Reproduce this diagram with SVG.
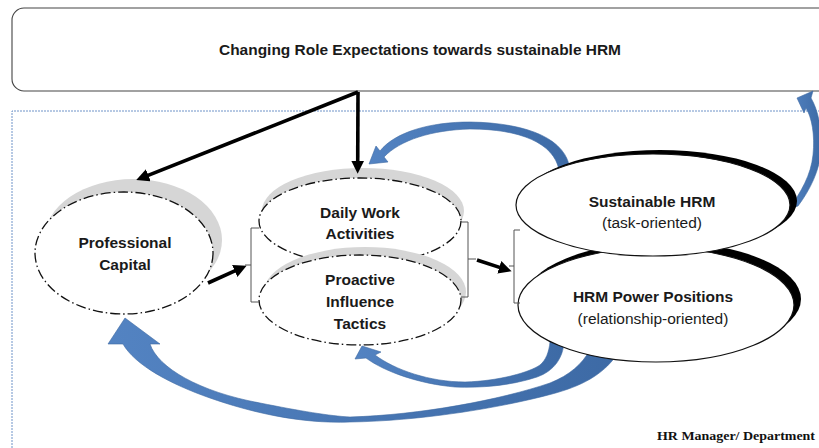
<svg xmlns="http://www.w3.org/2000/svg" width="819" height="448" viewBox="0 0 819 448">
  <defs>
    <style>
      .frame { fill: none; stroke: #6F93C8; stroke-width: 1; stroke-dasharray: 2 1; }
      .topbox { fill: #ffffff; stroke: #444; stroke-width: 1.1; }
      .dd { fill: #ffffff; stroke: #111; stroke-width: 1.3; stroke-dasharray: 10 3 1.5 3; }
      .dd-shadow { fill: #d6d6d6; stroke: none; }
      .solid { fill: #ffffff; stroke: #111; stroke-width: 1.2; }
      .solid-shadow { fill: #000; stroke: none; }
      .lbl { font-family: "Liberation Sans", Arial, sans-serif; font-size: 15.5px; font-weight: bold; fill: #1a1a1a; text-anchor: middle; }
      .sub { font-family: "Liberation Sans", Arial, sans-serif; font-size: 15.5px; fill: #1a1a1a; text-anchor: middle; }
      .title { font-family: "Liberation Sans", Arial, sans-serif; font-size: 15px; font-weight: bold; fill: #1a1a1a; }
      .corner { font-family: "Liberation Serif", "Times New Roman", serif; font-size: 13.5px; font-weight: bold; fill: #111; }
      .blk { fill: none; stroke: #000; stroke-width: 3.6; marker-end: url(#head); }
      .brk { fill: none; stroke: #555; stroke-width: 1; }
      .blue { fill: url(#blueGrad); stroke: #3E6AA3; stroke-width: 0.6; }
    </style>
    <marker id="head" viewBox="0 0 12 12" markerUnits="userSpaceOnUse" markerWidth="13" markerHeight="13" refX="4" refY="6" orient="auto">
      <path d="M0,0 L12,6 L0,12 Z" fill="#000"/>
    </marker>
    <linearGradient id="blueGrad" x1="0" y1="0" x2="1" y2="0">
      <stop offset="0" stop-color="#5383C2"/>
      <stop offset="1" stop-color="#3D6AA5"/>
    </linearGradient>
  </defs>

  <!-- outer frame of the department area -->
  <path class="frame" d="M12,448 L12,111 L819,111"/>

  <!-- expectations box across the top -->
  <g id="expectations">
    <rect class="topbox" x="12" y="8" width="830" height="83" rx="12"/>
    <text class="title" x="219" y="55" textLength="402" lengthAdjust="spacingAndGlyphs">Changing Role Expectations towards sustainable HRM</text>
  </g>

  <!-- curved feedback arrows (drawn beneath the ellipses) -->
  <g id="feedback">
    <path class="blue" d="M125,318 L160,344 L150,344 C158,368 200,392 260,403 C300,411 330,416 350,417 C420,415 500,400 550,383 C570,375 582,364 590,350 L616,356 C602,375 582,386 552,394 C500,408 420,421 350,422 C300,424 250,412 210,398 C170,384 135,365 123,344 L108,344 Z"/>
    <path class="blue" d="M362,346 L381,352 L375,355 C395,370 430,382 465,382 C500,381 530,372 540,365 C546,360 549,352 550,342 L564,342 C563,358 554,371 537,377 C510,386 480,388 455,387 C420,384 385,372 366,358 L355,359 Z"/>
    <path class="blue" d="M369,164 L376,146 L380,151 C395,132 430,122 470,122 C530,123 567,140 570,170 L559,170 C554,143 520,129 470,129 C432,130 400,140 384,157 L388,162 Z"/>
    <path class="blue" d="M797,98 L813,91 L811,98 C818,110 822,128 821,150 C820,170 810,190 798,206 L789,209 C801,192 811,175 813,155 C815,135 812,118 806,108 L804,113 Z"/>
  </g>

  <g id="professional-capital">
    <ellipse class="dd-shadow" cx="133" cy="240" rx="89" ry="61"/>
    <ellipse class="dd" cx="124" cy="253" rx="89" ry="61"/>
    <text class="lbl" x="125" y="248">Professional</text>
    <text class="lbl" x="125" y="270">Capital</text>
  </g>

  <g id="daily-work">
    <ellipse class="dd-shadow" cx="363" cy="211" rx="101" ry="43"/>
    <ellipse class="dd" cx="360" cy="221" rx="101" ry="43"/>
    <text class="lbl" x="360" y="218">Daily Work</text>
    <text class="lbl" x="360" y="239">Activities</text>
  </g>

  <g id="proactive-tactics">
    <ellipse class="dd-shadow" cx="365" cy="292" rx="101" ry="45"/>
    <ellipse class="dd" cx="360" cy="300" rx="101" ry="45"/>
    <text class="lbl" x="360" y="285">Proactive</text>
    <text class="lbl" x="360" y="307">Influence</text>
    <text class="lbl" x="360" y="329">Tactics</text>
  </g>

  <g id="hrm-power">
    <ellipse class="solid-shadow" cx="663" cy="299" rx="138" ry="57"/>
    <ellipse class="solid" cx="656" cy="305" rx="138" ry="57"/>
    <text class="lbl" x="653" y="302">HRM Power Positions</text>
    <text class="sub" x="653" y="324">(relationship-oriented)</text>
  </g>

  <g id="sustainable-hrm">
    <ellipse class="solid-shadow" cx="660" cy="201" rx="137" ry="51"/>
    <ellipse class="solid" cx="653" cy="205" rx="137" ry="51"/>
    <text class="lbl" x="652" y="207">Sustainable HRM</text>
    <text class="sub" x="652" y="228">(task-oriented)</text>
  </g>

  <!-- brackets and black flow arrows -->
  <g id="connectors">
    <path class="brk" d="M259,228 L251,228 L251,302 L259,302 M251,265 L245,265"/>
    <path class="brk" d="M461,222 L468,222 L468,297 L461,297 M468,259 L476,259"/>
    <path class="brk" d="M520,230 L514,230 L514,303 L520,303 M514,266 L509,266"/>
    <line class="blk" x1="358" y1="92" x2="357.7" y2="165"/>
    <line class="blk" x1="358" y1="92" x2="144.3" y2="176.9"/>
    <line class="blk" x1="208" y1="283" x2="238.7" y2="269.2"/>
    <line class="blk" x1="477" y1="260" x2="503.4" y2="268.6"/>
  </g>

  <text class="corner" x="657" y="440" textLength="158" lengthAdjust="spacingAndGlyphs">HR Manager/ Department</text>
</svg>
